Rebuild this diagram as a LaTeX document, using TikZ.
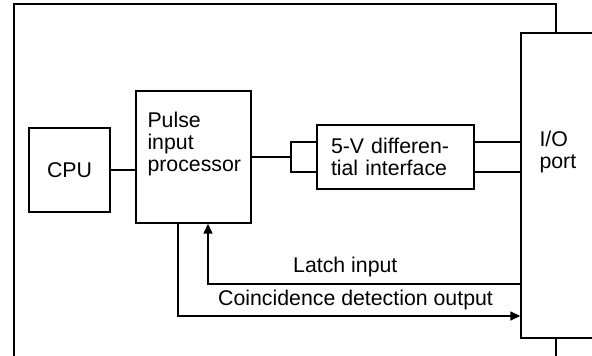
\documentclass[tikz,border=0pt]{standalone}
\usepackage{fontspec}
\setmainfont{Liberation Sans}
\usetikzlibrary{arrows.meta, positioning}

\begin{document}
\begin{tikzpicture}[
    x=1pt, y=-1pt,
    font=\fontsize{21.3}{22}\selectfont,
    box/.style={draw, line width=1.4pt, inner sep=0pt},
    txt/.style={inner sep=0pt, align=left},
    wire/.style={line width=1.4pt},
    arrow/.style={wire, -{Triangle[length=10pt, width=9pt]}},
]
    \useasboundingbox (0,0) rectangle (592,356);
    \clip (0,0) rectangle (592,356);

    % Blocks
    \node[box, minimum width=81pt, minimum height=84pt] (cpu) at (69.5,170) {CPU};
    \node[box, minimum width=115pt, minimum height=132pt] (pip) at (193.5,157) {};
    \node[txt, anchor=north west] (piptext) at ([xshift=12pt, yshift=-22pt]pip.north west) {Pulse\\input\\processor};
    \node[box, text width=129pt, inner xsep=14pt, minimum height=64pt, align=left] (ifc) at (395.5,157) {5-V differen-\\tial interface};
    \node[box, minimum width=120pt, minimum height=305pt] (io) at (581,185.5) {};
    \node[txt, anchor=north west] (iotext) at ([xshift=19pt, yshift=-99pt]io.north west) {I/O\\port};

    % Outer frame
    \coordinate (ftop) at (556,4);
    \draw[wire] (14,360) |- (ftop) -- (ftop |- io.north);
    \draw[wire] (ftop |- io.south) -- (556,360);

    % Connections
    \draw[wire] (cpu.east) -- (cpu.east -| pip.west);
    \coordinate (fa) at (291,142);
    \coordinate (fb) at (291,172);
    \draw[wire] (pip.east |- 0,157) -- (fa |- 0,157);
    \draw[wire] (fa -| ifc.west) -- (fa) -- (fb) -- (fb -| ifc.west);
    \draw[wire] (ifc.east |- fa) -- (fa -| io.west);
    \draw[wire] (ifc.east |- fb) -- (fb -| io.west);

    % Latch / coincidence
    \coordinate (latch) at (208,284);
    \coordinate (coin) at (178,316);
    \draw[arrow] (latch -| io.west) -- (latch) -- (latch |- pip.south);
    \draw[arrow] (coin |- pip.south) -- (coin) -- (coin -| io.west);
    \node[txt, anchor=base west] (latchlbl) at ([xshift=85pt, yshift=12pt]latch) {Latch input};
    \node[txt, anchor=base west] (coinlbl) at ([xshift=40pt, yshift=11pt]coin) {Coincidence detection output};
\end{tikzpicture}
\end{document}
